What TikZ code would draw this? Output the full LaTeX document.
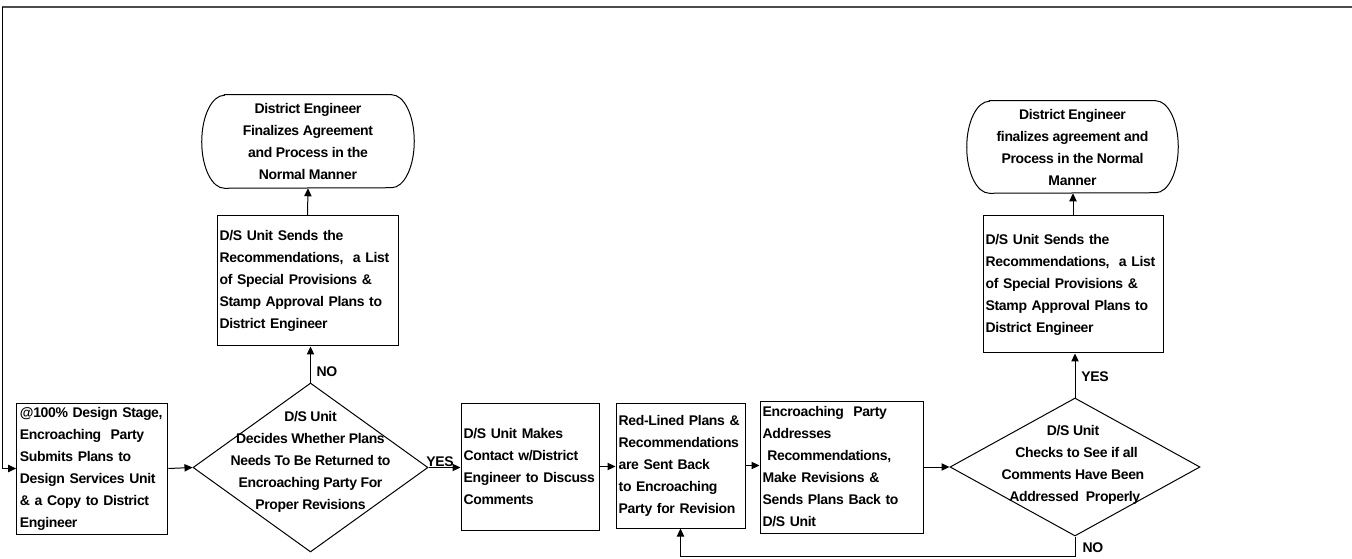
\documentclass[tikz,border=0pt]{standalone}
\usepackage{fontspec}
\setmainfont{Liberation Sans}[LetterSpace=-2.5]
\usetikzlibrary{arrows.meta,shapes.geometric,calc}
\begin{document}
\begin{tikzpicture}[x=0.75pt,y=-0.75pt,
  every node/.style={font=\fontsize{10.5}{16.5}\selectfont\bfseries},
  proc/.style={draw, align=left, inner xsep=2pt, inner ysep=0pt, line width=0.75pt},
  term/.style={align=center, inner sep=0pt},
  dec/.style={draw, diamond, inner sep=0pt, line width=0.75pt},
  dtext/.style={align=center, inner sep=0pt},
  lbl/.style={inner sep=0pt},
  arr/.style={line width=0.75pt, -{Triangle[length=6pt,width=5.5pt]}},
  frame/.style={line width=1.5pt, black!70}
]
\useasboundingbox (0,0) rectangle (1352,559);

% frame / incoming connector
\coordinate (tr) at (1352,7);
\coordinate (tl) at (2,7);
\draw[frame] (tr) -- (tl);

% start box
\node[proc, inner xsep=2.5pt, text width=108.5pt, minimum height=98.25pt] (b1) at (92.3,468.5)
  {@100\% Design Stage,\\Encroaching~ Party\\Submits Plans to\\Design Services Unit\\\& a Copy to District\\Engineer};

% decision 1
\node[dec, minimum width=176.25pt, minimum height=126.75pt] (d1) at (310.5,467.5) {};
\node[dtext] (d1t) at (310.5,462)
  {D/S Unit\\Decides Whether Plans\\Needs To Be Returned to\\Encroaching Party For\\Proper Revisions};

% box 2 (left upper)
\node[proc, text width=131.75pt, minimum height=97.5pt] (b2) at (307.5,281)
  {D/S Unit Sends the\\Recommendations,~ a List\\of Special Provisions \&\\Stamp Approval Plans to\\District Engineer};

% terminator 1
\node[term, minimum width=159pt, minimum height=69.75pt] (t1) at (308,141.5)
  {District Engineer\\Finalizes Agreement\\and Process in the\\Normal Manner};
\draw[line width=0.75pt] ([xshift=17pt]t1.north west) -- ([xshift=-17pt]t1.north east)
  arc[start angle=90,end angle=-90,x radius=17pt,y radius=34.875pt]
  -- ([xshift=17pt]t1.south west)
  arc[start angle=270,end angle=90,x radius=17pt,y radius=34.875pt] -- cycle;

% box 3
\node[proc, text width=99.5pt, minimum height=95.25pt] (b3) at (530,466.5)
  {D/S Unit Makes\\Contact w/District\\Engineer to Discuss\\Comments};

% box 4
\node[proc, text width=92.75pt, minimum height=93.75pt] (b4) at (680.5,465.5)
  {Red-Lined Plans \&\\Recommendations\\are Sent Back\\to Encroaching\\Party for Revision};

% box 5
\node[proc, text width=118.25pt, minimum height=99pt] (b5) at (841.5,467)
  {Encroaching~ Party\\Addresses\\~Recommendations,\\Make Revisions \&\\Sends Plans Back to\\D/S Unit};

% decision 2
\node[dec, minimum width=187.5pt, minimum height=103.5pt] (d2) at (1075,467) {};
\node[dtext] (d2t) at (1073,464.5)
  {D/S Unit\\~~Checks to See if all\\Comments Have Been\\~Addressed~ Properly};

% box 6 (right upper)
\node[proc, text width=131pt, minimum height=102.75pt] (b6) at (1073,284.5)
  {D/S Unit Sends the\\Recommendations,~ a List\\of Special Provisions \&\\Stamp Approval Plans to\\District Engineer};

% terminator 2
\node[term, minimum width=158.25pt, minimum height=69pt] (t2) at (1072.5,147)
  {District Engineer\\finalizes agreement and\\Process in the Normal\\Manner};
\draw[line width=0.75pt] ([xshift=17pt]t2.north west) -- ([xshift=-17pt]t2.north east)
  arc[start angle=90,end angle=-90,x radius=17pt,y radius=34.5pt]
  -- ([xshift=17pt]t2.south west)
  arc[start angle=270,end angle=90,x radius=17pt,y radius=34.5pt] -- cycle;

% connectors
\draw[arr] (tl) |- (b1.west);
\draw[arr] (b1.east) -- (d1.west);
\draw[arr] (d1.north) -- (d1.north |- b2.south);
\draw[arr] (b2.north) -- (t1.south);
\draw[arr] (d1.east) -- (d1.east -| b3.west);
\draw[arr] (b3.east) -- (b3.east -| b4.west);
\draw[arr] (b4.east) -- (b4.east -| b5.west);
\draw[arr] (b5.east) -- (b5.east -| d2.west);
\draw[arr] (d2.north) -- (d2.north |- b6.south);
\draw[arr] (b6.north) -- (b6.north |- t2.south);
\coordinate (lp) at (1075,556);
\draw[arr] (d2.south) -- (lp) -| (b4.south);

% labels
\node[lbl] (no1) at (327,372) {NO};
\node[lbl] (yes1) at (440,462) {YES};
\node[lbl] (yes2) at (1095,377) {YES};
\node[lbl] (no2) at (1093,548) {NO};
\end{tikzpicture}
\end{document}
